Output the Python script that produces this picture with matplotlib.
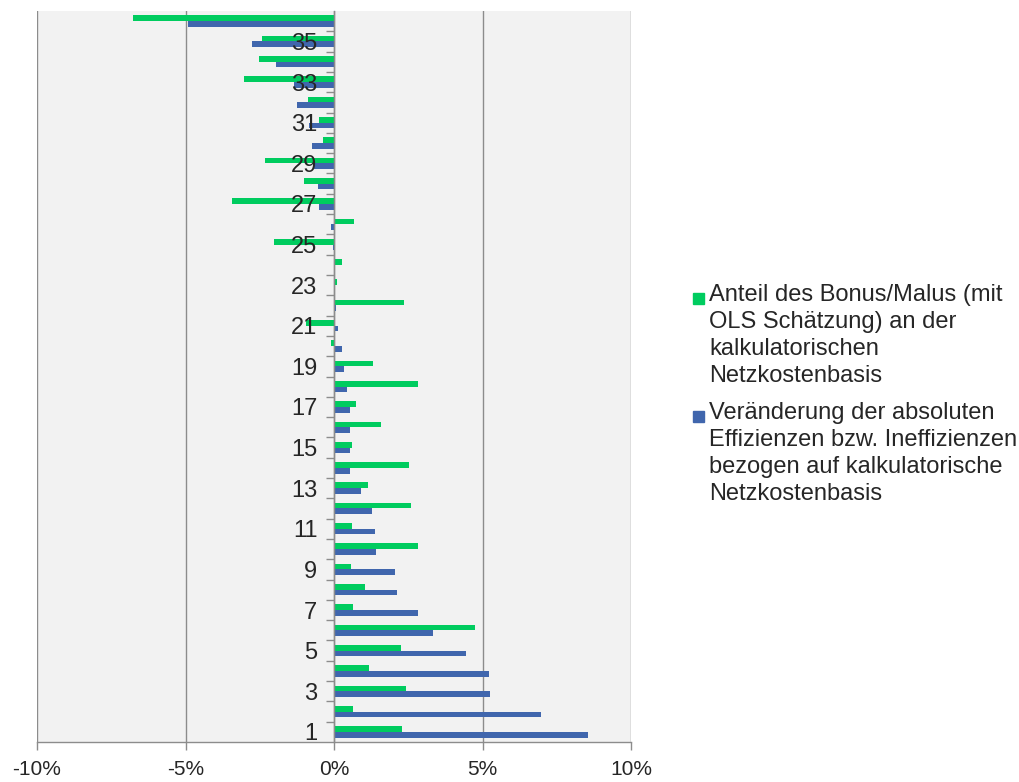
import matplotlib
matplotlib.use('Agg')
import matplotlib.pyplot as plt
from matplotlib.patches import Rectangle
from matplotlib.ticker import FuncFormatter, FixedLocator
import numpy as np

plt.rcParams['font.family'] = ['Liberation Sans', 'DejaVu Sans']

# Netzbetreiber 1..36 (bottom to top)
betreiber = np.arange(1, 37)

# Anteil des Bonus/Malus (OLS) an der kalkulatorischen Netzkostenbasis, in %
bonus_malus = [2.29, 0.65, 2.44, 1.18, 2.25, 4.75, 0.65, 1.03, 0.57, 2.83,
               0.62, 2.60, 1.16, 2.53, 0.60, 1.58, 0.74, 2.84, 1.31, -0.09,
               -0.94, 2.37, 0.09, 0.26, -2.02, 0.68, -3.45, -1.02, -2.31, -0.36,
               -0.51, -0.89, -3.02, -2.53, -2.42, -6.77]

# Veränderung der absoluten (In-)Effizienzen bezogen auf die Netzkostenbasis, in %
veraenderung = [8.56, 6.96, 5.25, 5.21, 4.46, 3.35, 2.83, 2.13, 2.06, 1.42,
                1.37, 1.29, 0.92, 0.55, 0.55, 0.55, 0.55, 0.44, 0.33, 0.26,
                0.13, 0.07, 0.0, 0.0, -0.04, -0.09, -0.51, -0.55, -0.67, -0.73,
                -0.84, -1.24, -1.35, -1.96, -2.77, -4.93]

labels = ['Anteil des Bonus/Malus (mit\nOLS Schätzung) an der\nkalkulatorischen\nNetzkostenbasis',
          'Veränderung der absoluten\nEffizienzen bzw. Ineffizienzen\nbezogen auf kalkulatorische\nNetzkostenbasis']

green = '#00cc5f'
blue = '#4066ad'
grid_col = '#8c8c8c'
txt_col = '#262626'

fig = plt.figure(figsize=(10.19, 7.82), dpi=100)
ax = fig.add_axes([37/1019, 1-742/782, (631-37)/1019, (742-11)/782])
ax.set_facecolor('#f2f2f2')

h = 0.28
ax.barh(betreiber + h/2, bonus_malus, height=h, color=green, zorder=3)
ax.barh(betreiber - h/2, veraenderung, height=h, color=blue, zorder=3)

ax.set_xlim(-10, 10)
ax.set_ylim(0.5, 36.5)

# x axis
ax.set_xticks([-10, -5, 0, 5, 10])
ax.xaxis.set_major_formatter(FuncFormatter(lambda v, p: f'{v:.0f}%'))
ax.tick_params(axis='x', length=6, width=1, color=grid_col, pad=7,
               labelsize=15, labelcolor=txt_col)
ax.grid(axis='x', color=grid_col, linewidth=1, zorder=0)

# y axis sits on the zero line, labels drawn over the bars
ax.spines['left'].set_position(('data', 0))
ax.spines['left'].set_zorder(4)
for s in ['top', 'right']:
    ax.spines[s].set_visible(False)
for s in ['left', 'bottom']:
    ax.spines[s].set_color(grid_col)
    ax.spines[s].set_linewidth(1)

ax.yaxis.set_major_locator(FixedLocator(betreiber[::2]))
ax.yaxis.set_minor_locator(FixedLocator(np.arange(1.5, 36.5, 1)))
ax.tick_params(axis='y', which='major', length=0, pad=12, labelsize=17,
               labelcolor=txt_col)
ax.tick_params(axis='y', which='minor', length=6, width=1, color=grid_col)
ax.yaxis.set_zorder(5)

# legend on the right, marker beside the first line of each entry
W, H = 1019, 782
for col, lab, top in [(green, labels[0], 284), (blue, labels[1], 402)]:
    fig.patches.append(Rectangle((693/W, 1-(top+20)/H), 11/W, 11/H,
                                 transform=fig.transFigure, color=col,
                                 figure=fig))
    fig.text(709/W, 1-top/H, lab, ha='left', va='top', fontsize=17,
             color=txt_col, linespacing=1.30)

fig.savefig('out.png', dpi=100, facecolor='white')
